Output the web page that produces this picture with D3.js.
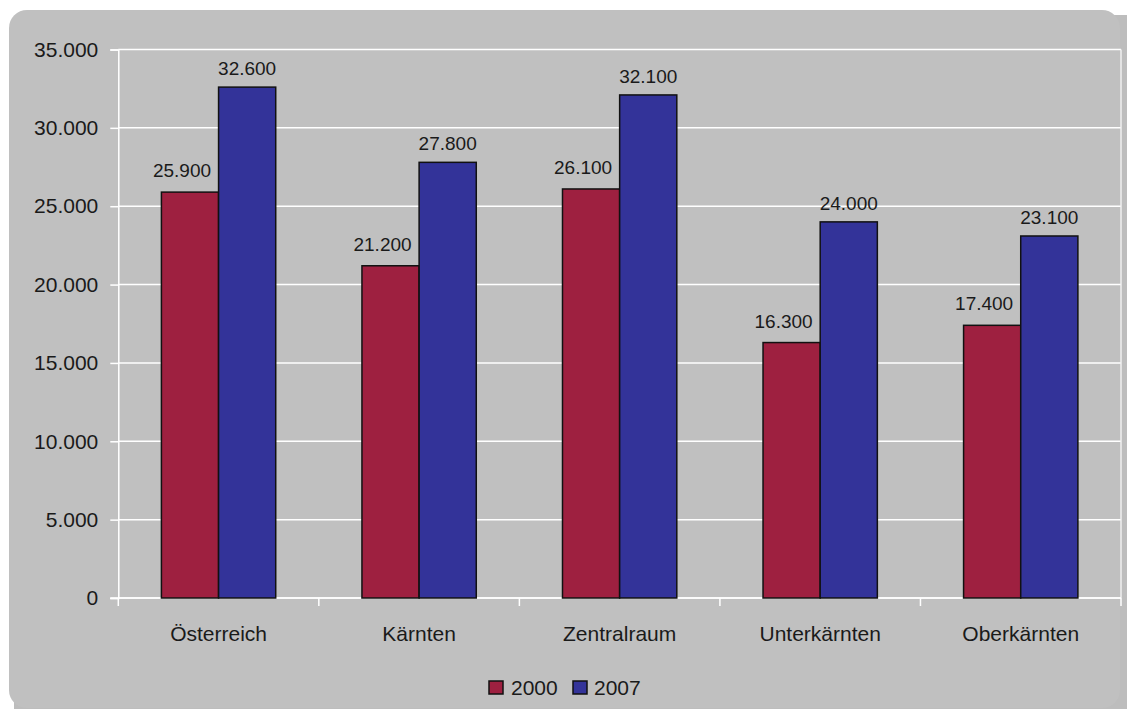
<!DOCTYPE html>
<html>
<head>
<meta charset="utf-8">
<script src="https://cdn.jsdelivr.net/npm/d3@7"></script>
<style>
  html, body { margin: 0; padding: 0; background: #ffffff; }
  svg { display: block; }
  text { font-family: "Liberation Sans", Arial, sans-serif; fill: #1a1a1a; }
</style>
</head>
<body>
<svg id="chart" width="1127" height="709"></svg>
<script>
// Regions and series values
const categories = ["Österreich", "Kärnten", "Zentralraum", "Unterkärnten", "Oberkärnten"];
const seriesNames = ["2000", "2007"];
const values2000 = [25900, 21200, 26100, 16300, 17400];
const values2007 = [32600, 27800, 32100, 24000, 23100];
const yTicks = [0, 5000, 10000, 15000, 20000, 25000, 30000, 35000];

const colors = { "2000": "#9e2040", "2007": "#333399" };
const seriesValues = { "2000": values2000, "2007": values2007 };
// label placement per series: horizontal shift and gap above the bar
const labelShift = { "2000": -8, "2007": 0 };
const labelGap = { "2000": 15, "2007": 12 };

const de = d3.formatLocale({ decimal: ",", thousands: ".", grouping: [3], currency: ["", " €"] });
const fmt = de.format(",.0f");

const plot = { left: 118.3, right: 1121, top: 49.5, bottom: 598 };

const svg = d3.select("#chart");

// Chart background panel with soft shadow edge
svg.append("rect")
  .attr("x", 14).attr("y", 15).attr("width", 1140).attr("height", 720)
  .attr("rx", 18).attr("ry", 18).attr("fill", "#bdbdbd");
svg.append("rect")
  .attr("x", 9).attr("y", 10).attr("width", 1111).attr("height", 698)
  .attr("rx", 18).attr("ry", 18).attr("fill", "#c0c0c0");

const x = d3.scaleBand()
  .domain(categories)
  .range([plot.left, plot.right])
  .paddingInner(0.43)
  .paddingOuter(0.215);

const xs = d3.scaleBand().domain(seriesNames).range([0, x.bandwidth()]).padding(0);

const y = d3.scaleLinear().domain([0, 35000]).range([plot.bottom, plot.top]);

// Horizontal gridlines
svg.append("g")
  .selectAll("line")
  .data(yTicks)
  .join("line")
  .attr("x1", plot.left).attr("x2", plot.right)
  .attr("y1", d => y(d)).attr("y2", d => y(d))
  .attr("stroke", "#ffffff").attr("stroke-width", 1.5);

// Right border of plot area
svg.append("line")
  .attr("x1", plot.right).attr("x2", plot.right)
  .attr("y1", plot.top).attr("y2", plot.bottom)
  .attr("stroke", "#f0f0f0").attr("stroke-width", 1.5);

// Y axis
const yAxis = d3.axisLeft(y).tickValues(yTicks).tickFormat(fmt).tickSize(8).tickPadding(12);
const gy = svg.append("g").attr("transform", `translate(${plot.left},0)`).call(yAxis);
gy.select(".domain").attr("stroke", "#ffffff").attr("stroke-width", 1.5);
gy.selectAll(".tick line").attr("stroke", "#ffffff").attr("stroke-width", 1.5);
gy.selectAll(".tick text")
  .style("font-family", '"Liberation Sans", Arial, sans-serif')
  .style("font-size", "21px").attr("fill", "#1a1a1a");

// X axis with category separators
const gx = svg.append("g").attr("transform", `translate(0,${plot.bottom})`);
gx.append("line")
  .attr("x1", plot.left - 8).attr("x2", plot.right)
  .attr("y1", 0).attr("y2", 0)
  .attr("stroke", "#ffffff").attr("stroke-width", 1.5);
const seps = categories.map(c => x(c) - x.step() * x.paddingOuter());
seps.push(plot.right);
gx.selectAll("line.sep")
  .data(seps)
  .join("line").attr("class", "sep")
  .attr("x1", d => d).attr("x2", d => d)
  .attr("y1", 0).attr("y2", 8)
  .attr("stroke", "#ffffff").attr("stroke-width", 1.5);
gx.selectAll("text.cat")
  .data(categories)
  .join("text").attr("class", "cat")
  .attr("x", d => x(d) + x.bandwidth() / 2)
  .attr("y", 43)
  .attr("text-anchor", "middle")
  .style("font-size", "21px")
  .text(d => d);

// Bars
const rows = [];
categories.forEach((c, i) => {
  seriesNames.forEach(s => rows.push({ cat: c, series: s, value: seriesValues[s][i] }));
});

svg.append("g")
  .selectAll("rect")
  .data(rows)
  .join("rect")
  .attr("x", d => x(d.cat) + xs(d.series))
  .attr("y", d => y(d.value))
  .attr("width", xs.bandwidth())
  .attr("height", d => y(0) - y(d.value))
  .attr("fill", d => colors[d.series])
  .attr("stroke", "#111111").attr("stroke-width", 1.5);

// Value labels
svg.append("g")
  .selectAll("text")
  .data(rows)
  .join("text")
  .attr("x", d => x(d.cat) + xs(d.series) + xs.bandwidth() / 2 + labelShift[d.series])
  .attr("y", d => y(d.value) - labelGap[d.series])
  .attr("text-anchor", "middle")
  .style("font-size", "19px")
  .text(d => fmt(d.value));

// Legend
const legendItems = [
  { name: "2000", sx: 489, tx: 511 },
  { name: "2007", sx: 573, tx: 594 }
];
const lg = svg.append("g");
lg.selectAll("rect")
  .data(legendItems)
  .join("rect")
  .attr("x", d => d.sx).attr("y", 681)
  .attr("width", 14).attr("height", 13)
  .attr("fill", d => colors[d.name])
  .attr("stroke", "#111111").attr("stroke-width", 1.5);
lg.selectAll("text")
  .data(legendItems)
  .join("text")
  .attr("x", d => d.tx).attr("y", 695)
  .style("font-size", "21px")
  .text(d => d.name);
</script>
</body>
</html>
